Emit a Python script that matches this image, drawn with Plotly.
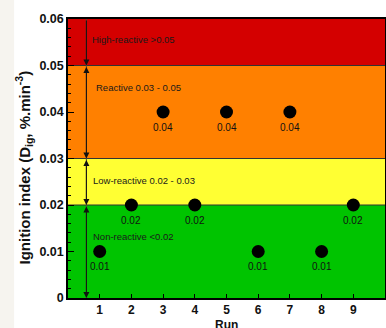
import plotly.graph_objects as go

runs = [1, 2, 3, 4, 5, 6, 7, 8, 9]
ignition_index = [0.01, 0.02, 0.04, 0.02, 0.04, 0.01, 0.04, 0.01, 0.02]
point_labels = ["0.01", "0.02", "0.04", "0.02", "0.04", "0.01", "0.04", "0.01", "0.02"]
y_ticks = [0, 0.01, 0.02, 0.03, 0.04, 0.05, 0.06]
y_tick_labels = ["0", "0.01", "0.02", "0.03", "0.04", "0.05", "0.06"]

band_bounds = [(0.0, 0.02), (0.02, 0.03), (0.03, 0.05), (0.05, 0.06)]
band_colors = ["#00c400", "#ffff33", "#ff8000", "#d40000"]
band_names = ["Non-reactive <0.02", "Low-reactive 0.02 - 0.03", "Reactive 0.03 - 0.05", "High-reactive >0.05"]
band_label_y = [0.0133, 0.0253, 0.0453, 0.0555]
band_label_x = [0.74, 0.74, 0.83, 0.70]

fig = go.Figure()

shapes = []
shapes.append(dict(type="rect", xref="paper", yref="paper", x0=-0.2145, x1=-0.170, y0=-0.2, y1=1.1,
                   fillcolor="#f6f4ef", line=dict(width=0), layer="below"))
for (lo, hi), c in zip(band_bounds, band_colors):
    shapes.append(dict(type="rect", xref="paper", yref="y", x0=0, x1=1, y0=lo, y1=hi,
                       fillcolor=c, line=dict(width=0), layer="below"))
for b in [0.02, 0.03, 0.05]:
    shapes.append(dict(type="line", xref="paper", yref="y", x0=0, x1=1, y0=b, y1=b,
                       line=dict(color="#333333", width=1), layer="below"))
shapes.append(dict(type="line", xref="x", yref="y", x0=0.58, x1=0.58, y0=0, y1=0.06,
                   line=dict(color="#5a4a3a", width=1), layer="below"))

fig.add_trace(go.Scatter(
    x=runs, y=ignition_index, mode="markers",
    marker=dict(color="black", size=13), showlegend=False, cliponaxis=False, hoverinfo="skip"))

annotations = []
for x, y, t in zip(runs, ignition_index, point_labels):
    annotations.append(dict(x=x, y=y, xref="x", yref="y", text=t, showarrow=False,
                            yshift=-15, font=dict(family="Arial", size=10, color="#111111")))
for name, x, y in zip(band_names, band_label_x, band_label_y):
    annotations.append(dict(x=x, y=y, xref="x", yref="y", text=name, showarrow=False,
                            xanchor="left", font=dict(family="Arial", size=9.5, color="#1a1a1a")))

arrow_segments = [(0.06, 0.05, "end"), (0.05, 0.03, "end+start"), (0.03, 0.02, "end+start"), (0.02, 0.0, "end+start")]
for y0, y1, side in arrow_segments:
    annotations.append(dict(x=0.58, y=y1, ax=0.58, ay=y0, xref="x", yref="y", axref="x", ayref="y",
                            text="", showarrow=True, arrowhead=2, arrowsize=1.2, arrowwidth=1,
                            arrowside=side, arrowcolor="#111111", startarrowhead=2, startarrowsize=1.2,
                            standoff=0, startstandoff=0))

annotations.append(dict(x=0.5, y=0, xref="paper", yref="paper", yshift=-18, yanchor="top",
                        text="<b>Run</b>", showarrow=False,
                        font=dict(family="Arial", size=12, color="#111111")))
annotations.append(dict(x=0, y=0.5, xref="paper", yref="paper", xshift=-44, yshift=-9,
                        xanchor="center", yanchor="middle",
                        textangle=-90, showarrow=False,
                        text="<b>Ignition index (D<sub>ig</sub>, %.min<sup>-3</sup>)</b>",
                        font=dict(family="Arial", size=15, color="#111111")))

fig.update_layout(
    width=386, height=328,
    margin=dict(l=68, r=1, t=19, b=30),
    paper_bgcolor="white", plot_bgcolor="white",
    shapes=shapes, annotations=annotations,
    xaxis=dict(range=[0, 10], tickmode="array", tickvals=runs,
               ticktext=["<b>%d</b>" % r for r in runs], automargin=False,
               ticks="inside", ticklen=4, tickcolor="black", showgrid=False, zeroline=False,
               showline=True, linecolor="black", linewidth=1.5, mirror=True,
               tickfont=dict(family="Arial", size=12, color="#111111")),
    yaxis=dict(range=[0, 0.06], tickmode="array", tickvals=y_ticks,
               ticktext=["<b>%s</b>" % t for t in y_tick_labels], automargin=False,
               ticks="inside", ticklen=6, tickcolor="black", showgrid=False, zeroline=False,
               showline=True, linecolor="black", linewidth=1.5, mirror=True,
               minor=dict(tickmode="linear", tick0=0, dtick=0.002, ticks="inside", ticklen=3, tickcolor="black"),
               tickfont=dict(family="Arial", size=12.5, color="#111111")),
)

fig.write_html("out.html", config={"displayModeBar": False},
               post_script="document.body.style.margin='0';")
